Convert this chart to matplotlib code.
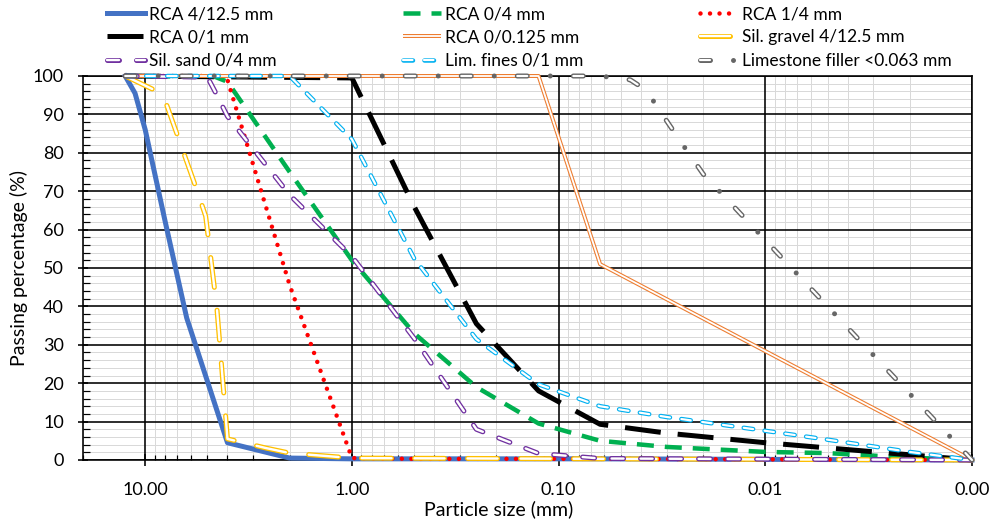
import matplotlib
matplotlib.use("Agg")
import matplotlib.pyplot as plt
from matplotlib.ticker import FixedLocator, LogLocator, MultipleLocator, FuncFormatter, NullFormatter

plt.rcParams["font.family"] = ["Lato", "DejaVu Sans"]
plt.rcParams["lines.scale_dashes"] = False
PX = 0.72  # one pixel in points at dpi=100

# ===== data (particle size mm / passing %) =====
rca_4_12_x = [12.5, 11.2, 10, 8, 6.3, 4, 2, 1, 0.5, 0.25, 0.125, 0.063, 0.001]
rca_4_12_y = [100, 95.5, 86, 62, 37, 4.5, 0.5, 0.3, 0.3, 0.3, 0.3, 0.3, 0]

rca_0_4_x = [12.5, 4.6, 4, 2, 1, 0.5, 0.25, 0.125, 0.063, 0.03, 0.01, 0.005, 0.002, 0.001]
rca_0_4_y = [100, 99.8, 98.5, 75, 52, 33, 19, 9.5, 5, 3.4, 2.1, 1.8, 0.6, 0]

rca_1_4_x = [12.5, 4.3, 4, 2, 1, 0.5, 0.25, 0.125, 0.063, 0.001]
rca_1_4_y = [100, 100, 99, 45.5, 0.5, 0.3, 0.3, 0.3, 0.3, 0]

rca_0_1_x = [12.5, 1, 0.5, 0.25, 0.125, 0.063, 0.03, 0.01, 0.001]
rca_0_1_y = [100, 99.5, 66, 35.5, 18, 9.3, 7.0, 4.5, 0]

rca_0_0125_x = [12.5, 0.125, 0.063, 0.001]
rca_0_0125_y = [100, 100, 51, 0]

sil_gravel_x = [12.5, 8.6, 8, 5.6, 5.1, 4.5, 4, 2.6, 2, 1, 0.063, 0.001]
sil_gravel_y = [100, 95.8, 93.5, 70, 63.5, 39.5, 5.5, 3.1, 1.8, 0.5, 0.3, 0]

sil_sand_x = [12.5, 5, 4.6, 4, 2, 1, 0.5, 0.25, 0.125, 0.063, 0.001]
sil_sand_y = [100, 99.7, 96, 89.5, 69, 53, 31.7, 8, 1.7, 0.4, 0]

lim_fines_x = [12.5, 2, 1, 0.5, 0.25, 0.125, 0.063, 0.03, 0.01, 0.005, 0.002, 0.001]
lim_fines_y = [100, 100, 83.5, 52.5, 31.5, 19.7, 14, 11.2, 7.6, 5.3, 2.1, 0]

lim_filler_x = [12.5, 0.063, 0.045, 0.04, 0.035, 0.03, 0.025, 0.02, 0.001]
lim_filler_y = [100, 100, 99, 97.2, 93.7, 88.3, 82, 74.5, 0]

x_ticks = [10, 1, 0.1, 0.01, 0.001]
y_ticks = list(range(0, 101, 10))

fig = plt.figure(figsize=(9.95, 5.26), dpi=100)
ax = fig.add_axes([83 / 995, 66 / 526, 889 / 995, 384 / 526])


def dashes(*p):
    return [v * PX for v in p]


def plain(x, y, color, lw, ls="-", cap="butt"):
    (ln,) = ax.plot(x, y, color=color, lw=lw * PX, linestyle=ls, dash_capstyle=cap,
                    solid_joinstyle="round", clip_on=False, zorder=3)
    return ln


def outlined(x, y, color, lw_out, lw_in, ls_out, ls_in=None, cap="round"):
    (a,) = ax.plot(x, y, color=color, lw=lw_out * PX, linestyle=ls_out, dash_capstyle=cap,
                   solid_capstyle="butt", clip_on=False, zorder=3)
    (b,) = ax.plot(x, y, color="white", lw=lw_in * PX, linestyle=ls_in or ls_out, dash_capstyle=cap,
                   solid_capstyle="butt", clip_on=False, zorder=3)
    return (a, b)


h = []
h.append(plain(rca_4_12_x, rca_4_12_y, "#4472C4", 5))
h.append(plain(rca_0_4_x, rca_0_4_y, "#00B050", 4.5, (0, dashes(17, 11))))
h.append(plain(rca_1_4_x, rca_1_4_y, "#FF0000", 4.5, (0, dashes(0.01, 9.5)), cap="round"))
h.append(plain(rca_0_1_x, rca_0_1_y, "black", 5, (0, dashes(36, 17))))
h.append(outlined(rca_0_0125_x, rca_0_0125_y, "#ED7D31", 4, 1.8, "-"))
h.append(outlined(sil_gravel_x, sil_gravel_y, "#FFC000", 5, 2.4, (0, dashes(30, 23))))
h.append(outlined(sil_sand_x, sil_sand_y, "#7030A0", 5, 2.4, (0, dashes(12, 17))))
h.append(outlined(lim_fines_x, lim_fines_y, "#00B0F0", 4.5, 2.2, (0, dashes(9.5, 11.5))))
h.append(outlined(lim_filler_x, lim_filler_y, "#666666", 5, 2.2,
                  (0, dashes(10, 23, 0.01, 23)), (0, dashes(10, 46.01))))

labels = ["RCA 4/12.5 mm", "RCA 0/4 mm", "RCA 1/4 mm",
          "RCA 0/1 mm", "RCA 0/0.125 mm", "Sil. gravel 4/12.5 mm",
          "Sil. sand 0/4 mm", "Lim. fines 0/1 mm", "Limestone filler <0.063 mm"]

# ===== axes =====
ax.set_xscale("log")
ax.set_xlim(20, 0.001)
ax.set_ylim(0, 100)
ax.xaxis.set_major_locator(FixedLocator(x_ticks))
ax.xaxis.set_major_formatter(FuncFormatter(lambda v, _: f"{v:.2f}"))
ax.xaxis.set_minor_locator(LogLocator(base=10, subs=range(2, 10), numticks=20))
ax.xaxis.set_minor_formatter(NullFormatter())
ax.yaxis.set_major_locator(FixedLocator(y_ticks))
ax.yaxis.set_minor_locator(MultipleLocator(2))

# light minor grid from the axis, black major grid on top of it
ax.set_axisbelow(True)
ax.grid(which="minor", color="#D9D9D9", lw=1.0 * PX)
for v in x_ticks:
    ax.axvline(v, color="black", lw=1.6 * PX, zorder=1)
for v in y_ticks:
    ax.axhline(v, color="black", lw=1.6 * PX, zorder=1)
for s in ax.spines.values():
    s.set_linewidth(1.6 * PX)

ax.tick_params(axis="x", which="major", direction="inout", length=12 * PX, width=1.6 * PX,
               pad=16 * PX, labelsize=13)
ax.tick_params(axis="x", which="minor", direction="in", length=5 * PX, width=1.2 * PX)
ax.tick_params(axis="y", which="major", direction="inout", length=10 * PX, width=1.6 * PX,
               pad=14 * PX, labelsize=13)
ax.tick_params(axis="y", which="minor", direction="in", length=7 * PX, width=1.2 * PX)

ax.set_xlabel("Particle size (mm)", fontsize=14)
ax.set_ylabel("Passing percentage (%)", fontsize=14)
ax.xaxis.set_label_coords(0.467, -0.104)
ax.yaxis.set_label_coords(-0.062, 0.5)

# ===== legend: three columns placed by hand, like the Excel layout =====
for col, x0 in enumerate([107, 403, 700]):
    idx = [col, col + 3, col + 6]
    fig.legend([h[i] for i in idx], [labels[i] for i in idx],
               loc="upper left", bbox_to_anchor=(x0 / 995, 1 - 6 / 526),
               frameon=False, fontsize=12.5, borderpad=0, borderaxespad=0,
               handlelength=2.2, handletextpad=0.2, labelspacing=0.42)

fig.savefig("out.png", dpi=100, facecolor="white")
